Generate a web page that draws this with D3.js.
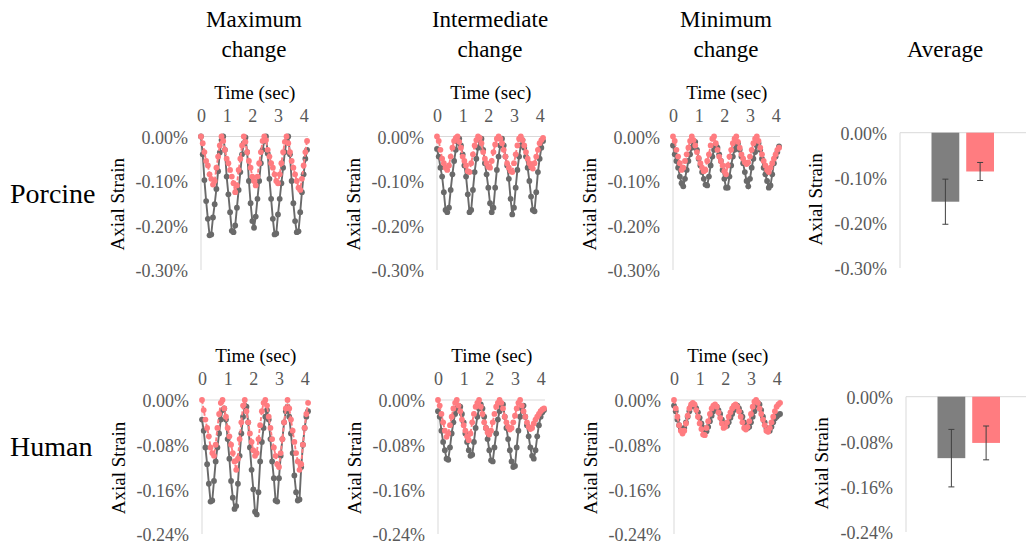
<!DOCTYPE html>
<html>
<head>
<meta charset="utf-8">
<script src="https://cdn.jsdelivr.net/npm/d3@7"></script>
<style>
  body { margin: 0; background: #fff; }
  svg text { font-family: "Liberation Serif", "Times New Roman", serif !important; }
</style>
</head>
<body>
<svg id="chart" width="1026" height="544"></svg>
<script>
// Axial strain traces (values in %), sampled every ~1/15 sec

const time = [0, 0.067, 0.133, 0.2, 0.267, 0.333, 0.4, 0.467, 0.533, 0.6, 0.667, 0.733, 0.8, 0.867, 0.933, 1.0,
  1.067, 1.133, 1.2, 1.267, 1.333, 1.4, 1.467, 1.533, 1.6, 1.667, 1.733, 1.8, 1.867, 1.933, 2.0, 2.067, 2.133,
  2.2, 2.267, 2.333, 2.4, 2.467, 2.533, 2.6, 2.667, 2.733, 2.8, 2.867, 2.933, 3.0, 3.067, 3.133, 3.2, 3.267,
  3.333, 3.4, 3.467, 3.533, 3.6, 3.667, 3.733, 3.8, 3.867, 3.933, 4.0, 4.067, 4.133];

// Porcine
const porcineMaxGray = [
  0.000, -0.040, -0.098, -0.145, -0.185, -0.222, -0.220, -0.182, -0.152, -0.118, -0.078, -0.036, -0.008,
  0.000, -0.030, -0.090, -0.130, -0.170, -0.212, -0.215, -0.200, -0.160, -0.120, -0.080, -0.040, -0.015,
  -0.002, -0.035, -0.100, -0.150, -0.190, -0.205, -0.180, -0.140, -0.100, -0.060, -0.030, -0.010,
  0.000, -0.038, -0.095, -0.140, -0.185, -0.220, -0.218, -0.175, -0.140, -0.105, -0.070, -0.035, -0.010,
  0.000, -0.040, -0.100, -0.150, -0.190, -0.215, -0.213, -0.170, -0.125, -0.085, -0.050, -0.030];
const porcineMaxRed = [
  0.000, -0.015, -0.035, -0.055, -0.065, -0.085, -0.095, -0.108, -0.100, -0.070, -0.045, -0.020,
  0.000, -0.010, -0.030, -0.050, -0.060, -0.075, -0.090, -0.105, -0.125, -0.110, -0.075, -0.050, -0.020,
  0.000, -0.012, -0.035, -0.055, -0.070, -0.090, -0.100, -0.110, -0.090, -0.060, -0.035, -0.010,
  0.000, -0.008, -0.030, -0.045, -0.060, -0.070, -0.085, -0.100, -0.105, -0.085, -0.060, -0.035, -0.012,
  0.000, -0.015, -0.035, -0.055, -0.070, -0.085, -0.100, -0.115, -0.120, -0.095, -0.065, -0.035, -0.010];
const porcineIntGray = [
  -0.028, -0.045, -0.070, -0.090, -0.125, -0.165, -0.170, -0.160, -0.120, -0.085, -0.055, -0.030, -0.012,
  -0.005, -0.020, -0.040, -0.065, -0.090, -0.130, -0.170, -0.165, -0.120, -0.080, -0.050, -0.025, -0.008,
  -0.005, -0.030, -0.060, -0.085, -0.115, -0.150, -0.170, -0.160, -0.115, -0.075, -0.045, -0.020, -0.005,
  -0.020, -0.045, -0.065, -0.095, -0.140, -0.175, -0.160, -0.115, -0.075, -0.045, -0.020, -0.008,
  -0.025, -0.045, -0.070, -0.100, -0.135, -0.165, -0.168, -0.125, -0.080, -0.050, -0.025, -0.010];
const porcineIntRed = [
  0.000, -0.010, -0.030, -0.050, -0.060, -0.070, -0.075, -0.065, -0.045, -0.025, -0.010, -0.003,
  0.000, -0.012, -0.025, -0.045, -0.055, -0.065, -0.078, -0.080, -0.060, -0.040, -0.020, -0.008, 0.000,
  -0.003, -0.015, -0.035, -0.050, -0.060, -0.068, -0.070, -0.055, -0.035, -0.018, -0.005, 0.000, -0.005,
  -0.015, -0.030, -0.045, -0.060, -0.070, -0.078, -0.080, -0.060, -0.040, -0.020, -0.005, 0.000, -0.008,
  -0.020, -0.035, -0.050, -0.060, -0.068, -0.072, -0.060, -0.045, -0.030, -0.015, -0.008, -0.003];
const porcineMinGray = [
  -0.020, -0.040, -0.055, -0.070, -0.090, -0.105, -0.112, -0.095, -0.075, -0.055, -0.040, -0.025, -0.015,
  -0.012, -0.030, -0.050, -0.065, -0.080, -0.095, -0.108, -0.110, -0.090, -0.065, -0.045, -0.030, -0.020,
  -0.025, -0.040, -0.055, -0.075, -0.095, -0.115, -0.115, -0.090, -0.065, -0.045, -0.030, -0.020, -0.015,
  -0.030, -0.045, -0.060, -0.080, -0.100, -0.112, -0.095, -0.070, -0.050, -0.035, -0.020, -0.015,
  -0.030, -0.050, -0.070, -0.085, -0.100, -0.115, -0.110, -0.085, -0.060, -0.045, -0.035, -0.022];
const porcineMinRed = [
  0.000, -0.010, -0.030, -0.045, -0.060, -0.075, -0.070, -0.055, -0.040, -0.025, -0.010, 0.000,
  -0.008, -0.020, -0.035, -0.048, -0.060, -0.070, -0.078, -0.075, -0.055, -0.040, -0.020, -0.005, 0.000,
  -0.015, -0.030, -0.045, -0.055, -0.065, -0.078, -0.085, -0.065, -0.045, -0.030, -0.015, -0.005, 0.000,
  -0.012, -0.025, -0.040, -0.050, -0.058, -0.062, -0.058, -0.045, -0.030, -0.015, -0.005, 0.000, -0.010,
  -0.025, -0.040, -0.055, -0.065, -0.075, -0.080, -0.070, -0.060, -0.050, -0.040, -0.030, -0.025];

// Human
const humanMaxGray = [
  -0.035, -0.055, -0.085, -0.115, -0.150, -0.182, -0.180, -0.145, -0.110, -0.085, -0.060, -0.035, -0.018,
  -0.015, -0.035, -0.070, -0.105, -0.145, -0.175, -0.195, -0.190, -0.150, -0.100, -0.060, -0.030, -0.010,
  -0.012, -0.040, -0.085, -0.125, -0.160, -0.200, -0.205, -0.165, -0.110, -0.075, -0.050, -0.030, -0.018,
  -0.035, -0.070, -0.110, -0.140, -0.180, -0.182, -0.140, -0.100, -0.070, -0.040, -0.020, -0.012,
  -0.030, -0.060, -0.095, -0.135, -0.165, -0.180, -0.178, -0.120, -0.080, -0.050, -0.030, -0.020];
const humanMaxRed = [
  0.000, -0.018, -0.035, -0.050, -0.065, -0.085, -0.095, -0.100, -0.080, -0.050, -0.025, -0.005,
  0.000, -0.015, -0.030, -0.050, -0.065, -0.080, -0.095, -0.110, -0.125, -0.105, -0.070, -0.040, -0.010,
  0.000, -0.020, -0.040, -0.060, -0.075, -0.090, -0.100, -0.095, -0.070, -0.045, -0.020, -0.005, 0.000,
  -0.010, -0.030, -0.050, -0.070, -0.085, -0.100, -0.115, -0.120, -0.095, -0.070, -0.040, -0.015, 0.000,
  -0.015, -0.035, -0.055, -0.075, -0.095, -0.110, -0.125, -0.115, -0.080, -0.050, -0.025, -0.005];
const humanIntGray = [
  -0.020, -0.030, -0.055, -0.075, -0.090, -0.105, -0.107, -0.085, -0.060, -0.040, -0.025, -0.015, -0.010,
  -0.012, -0.025, -0.040, -0.060, -0.075, -0.090, -0.100, -0.098, -0.075, -0.050, -0.030, -0.015, -0.008,
  -0.015, -0.030, -0.050, -0.070, -0.090, -0.108, -0.110, -0.085, -0.060, -0.035, -0.020, -0.010, -0.008,
  -0.030, -0.050, -0.070, -0.090, -0.110, -0.120, -0.118, -0.085, -0.055, -0.030, -0.015, -0.010,
  -0.030, -0.045, -0.065, -0.085, -0.100, -0.105, -0.090, -0.065, -0.045, -0.030, -0.022, -0.018];
const humanIntRed = [
  0.000, -0.010, -0.025, -0.040, -0.055, -0.066, -0.060, -0.045, -0.030, -0.015, -0.005, 0.000,
  -0.010, -0.020, -0.035, -0.045, -0.055, -0.065, -0.072, -0.060, -0.040, -0.025, -0.012, -0.005, 0.000,
  -0.012, -0.025, -0.040, -0.050, -0.058, -0.062, -0.055, -0.040, -0.025, -0.012, -0.005, 0.000, -0.005,
  -0.015, -0.030, -0.040, -0.048, -0.053, -0.050, -0.040, -0.028, -0.015, -0.005, 0.000, -0.010, -0.020,
  -0.030, -0.040, -0.048, -0.052, -0.050, -0.042, -0.035, -0.030, -0.025, -0.020, -0.017, -0.015];
const humanMinGray = [
  -0.010, -0.020, -0.035, -0.045, -0.052, -0.055, -0.050, -0.040, -0.030, -0.020, -0.012, -0.008, -0.010,
  -0.015, -0.022, -0.032, -0.042, -0.050, -0.055, -0.056, -0.048, -0.038, -0.028, -0.020, -0.015, -0.012,
  -0.018, -0.025, -0.035, -0.042, -0.047, -0.046, -0.040, -0.032, -0.025, -0.018, -0.012, -0.010, -0.015,
  -0.022, -0.030, -0.040, -0.047, -0.050, -0.048, -0.040, -0.030, -0.020, -0.010, -0.005, -0.008,
  -0.018, -0.030, -0.040, -0.050, -0.056, -0.055, -0.048, -0.040, -0.033, -0.030, -0.027, -0.025];
const humanMinRed = [
  0.000, -0.015, -0.030, -0.045, -0.055, -0.060, -0.055, -0.042, -0.028, -0.015, -0.008, -0.005,
  -0.008, -0.018, -0.030, -0.042, -0.052, -0.062, -0.063, -0.050, -0.038, -0.025, -0.015, -0.010, -0.008,
  -0.012, -0.022, -0.032, -0.042, -0.050, -0.048, -0.040, -0.030, -0.022, -0.015, -0.010, -0.008, -0.012,
  -0.020, -0.030, -0.040, -0.050, -0.053, -0.048, -0.038, -0.025, -0.012, -0.003, 0.000, -0.005, -0.015,
  -0.025, -0.035, -0.045, -0.055, -0.057, -0.050, -0.040, -0.030, -0.020, -0.012, -0.008, -0.005];

// Averages (bar height and error half-width, %)
const avgSeries = ['Series 1', 'Series 2'];
const porcineAvg = [-0.153, -0.086];
const porcineAvgErr = [0.050, 0.020];
const humanAvg = [-0.109, -0.082];
const humanAvgErr = [0.051, 0.030];

// Labels and ticks
const columnTitles = [['Maximum', 'change'], ['Intermediate', 'change'], ['Minimum', 'change']];
const averageTitle = 'Average';
const rowLabels = ['Porcine', 'Human'];
const timeTicks = [0, 1, 2, 3, 4];
const porcineTicks = [0, -0.10, -0.20, -0.30];
const humanTicks = [0, -0.08, -0.16, -0.24];

// Colors
const GRAY = '#6a6a6a';
const GRAY_BAR = '#7f7f7f';
const RED = '#ff7c80';
const GRID = '#d9d9d9';
const TICK_TEXT = '#595959';
const SERIF = '"Liberation Serif", "Times New Roman", serif';

const svg = d3.select('#chart');
const fmtPct = d => d.toFixed(2) + '%';

const rows = [
  {
    label: rowLabels[0], labelY: 203, top: 136.5, bottom: 270, min: -0.30, ticks: porcineTicks,
    panels: [[porcineMaxGray, porcineMaxRed], [porcineIntGray, porcineIntRed], [porcineMinGray, porcineMinRed]],
    axisX: [201, 437, 673],
    avg: porcineAvg, err: porcineAvgErr, barAxis: 900, barTop: 132.7, barBottom: 268
  },
  {
    label: rowLabels[1], labelY: 456, top: 400, bottom: 534, min: -0.24, ticks: humanTicks,
    panels: [[humanMaxGray, humanMaxRed], [humanIntGray, humanIntRed], [humanMinGray, humanMinRed]],
    axisX: [202, 438, 674],
    avg: humanAvg, err: humanAvgErr, barAxis: 906, barTop: 396.7, barBottom: 532
  }
];

function addText(parent, x, y, str, size, fill) {
  return parent.append('text')
    .attr('x', x).attr('y', y)
    .style('font-family', SERIF)
    .style('font-size', size + 'px')
    .attr('fill', fill || '#000')
    .text(str);
}

// Column titles
columnTitles.forEach((lines, i) => {
  const cx = rows[0].axisX[i] + 53;
  lines.forEach((t, j) => {
    addText(svg, cx, 27 + j * 30, t, 23).attr('text-anchor', 'middle');
  });
});
addText(svg, 945, 57, averageTitle, 23).attr('text-anchor', 'middle');

function drawYAxis(g, y, ticks, axisX, x1) {
  // zero line and the vertical axis line
  g.append('line')
    .attr('x1', axisX).attr('x2', x1)
    .attr('y1', y(0)).attr('y2', y(0))
    .attr('stroke', GRID).attr('stroke-width', 1);
  g.append('line')
    .attr('x1', axisX).attr('x2', axisX)
    .attr('y1', y(0)).attr('y2', y(ticks[ticks.length - 1]))
    .attr('stroke', GRID).attr('stroke-width', 1);

  const axis = d3.axisLeft(y).tickValues(ticks).tickFormat(fmtPct).tickSize(0).tickPadding(13);
  const ag = g.append('g').attr('transform', `translate(${axisX},0)`).call(axis);
  ag.attr('font-family', null).attr('font-size', null);
  ag.select('.domain').remove();
  ag.selectAll('text')
    .attr('dy', '0.38em')
    .style('font-family', SERIF)
    .style('font-size', '18px')
    .attr('fill', TICK_TEXT);
}

function drawAxialLabel(g, x, yMid) {
  g.append('text')
    .attr('transform', `translate(${x},${yMid}) rotate(-90)`)
    .attr('text-anchor', 'middle')
    .style('font-family', SERIF)
    .style('font-size', '19px')
    .attr('fill', '#000')
    .text('Axial Strain');
}

function drawLinePanel(row, i) {
  const axisX = row.axisX[i];
  const [grayVals, redVals] = row.panels[i];
  const g = svg.append('g');

  const x = d3.scaleLinear().domain([0, 4.17]).range([axisX, axisX + 107]);
  const y = d3.scaleLinear().domain([row.min, 0]).range([row.bottom, row.top]);

  drawYAxis(g, y, row.ticks, axisX, x(4.17));
  drawAxialLabel(g, axisX - 77, (row.top + row.bottom) / 2 + 1);

  // time axis above the plot
  const xAxis = d3.axisTop(x).tickValues(timeTicks).tickFormat(d3.format('d')).tickSize(0).tickPadding(0);
  const xg = g.append('g').attr('transform', `translate(0,${row.top - 15})`).call(xAxis);
  xg.attr('font-family', null).attr('font-size', null);
  xg.select('.domain').remove();
  xg.selectAll('text')
    .style('font-family', SERIF)
    .style('font-size', '18px')
    .attr('fill', TICK_TEXT);

  addText(g, x(2.1), row.top - 38, 'Time (sec)', 19).attr('text-anchor', 'middle');

  const series = [
    { vals: grayVals, color: GRAY, dash: null },
    { vals: redVals, color: RED, dash: '4,2' }
  ];

  series.forEach(s => {
    const pts = time.map((t, k) => [t, s.vals[k]]);
    const line = d3.line().x(d => x(d[0])).y(d => y(d[1]));
    g.append('path')
      .datum(pts)
      .attr('d', line)
      .attr('fill', 'none')
      .attr('stroke', s.color)
      .attr('stroke-width', 1.9)
      .attr('stroke-dasharray', s.dash);
    g.append('g')
      .selectAll('circle')
      .data(pts)
      .join('circle')
      .attr('cx', d => x(d[0]))
      .attr('cy', d => y(d[1]))
      .attr('r', 2.9)
      .attr('fill', s.color);
  });
}

function drawBarPanel(row) {
  const g = svg.append('g');
  const axisX = row.barAxis;
  const y = d3.scaleLinear().domain([row.min, 0]).range([row.barBottom, row.barTop]);
  const x = d3.scaleBand().domain(avgSeries).range([axisX + 31.5, axisX + 94]).paddingInner(0.2);

  drawYAxis(g, y, row.ticks, axisX, 1026);
  drawAxialLabel(g, axisX - 78, (row.barTop + row.barBottom) / 2 - 1);

  const colors = [GRAY_BAR, RED];
  g.selectAll('rect.bar')
    .data(avgSeries)
    .join('rect')
    .attr('class', 'bar')
    .attr('x', d => x(d))
    .attr('width', x.bandwidth())
    .attr('y', y(0))
    .attr('height', (d, k) => y(row.avg[k]) - y(0))
    .attr('fill', (d, k) => colors[k]);

  avgSeries.forEach((s, k) => {
    const cx = x(s) + x.bandwidth() / 2;
    const hi = y(row.avg[k] + row.err[k]);
    const lo = y(row.avg[k] - row.err[k]);
    g.append('line').attr('x1', cx).attr('x2', cx).attr('y1', hi).attr('y2', lo)
      .attr('stroke', '#404040').attr('stroke-width', 1);
    [hi, lo].forEach(yy => {
      g.append('line').attr('x1', cx - 3).attr('x2', cx + 3).attr('y1', yy).attr('y2', yy)
        .attr('stroke', '#404040').attr('stroke-width', 1);
    });
  });
}

rows.forEach(row => {
  addText(svg, 10, row.labelY, row.label, 28);
  row.panels.forEach((p, i) => drawLinePanel(row, i));
  drawBarPanel(row);
});
</script>
</body>
</html>
